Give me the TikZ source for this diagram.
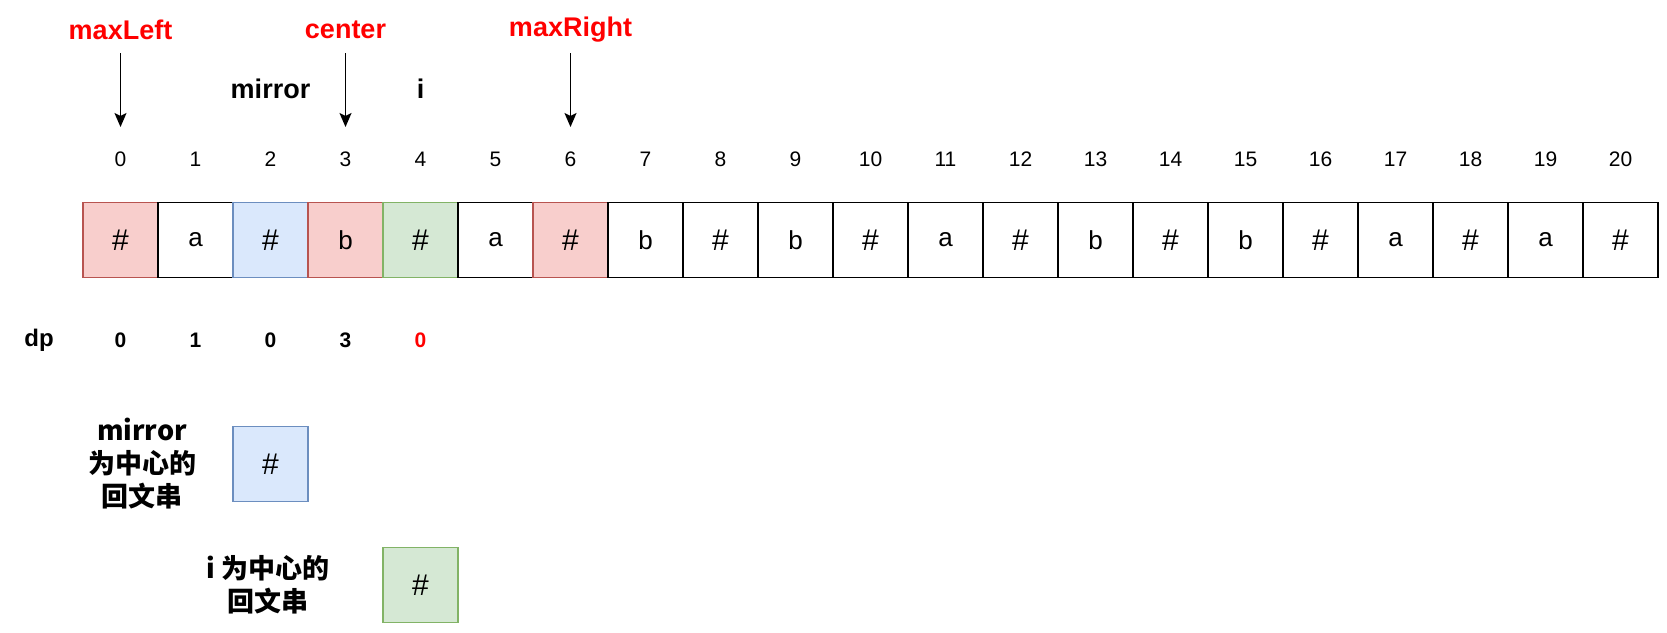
\documentclass[tikz,border=0pt]{standalone}
\usepackage{fontspec}
\setmainfont{Liberation Sans}
\newfontfamily\cjk{Noto Sans CJK SC}
\usetikzlibrary{arrows.meta}
\definecolor{redfill}{HTML}{F8CECC}
\definecolor{redline}{HTML}{B85450}
\definecolor{bluefill}{HTML}{DAE8FC}
\definecolor{blueline}{HTML}{6C8EBF}
\definecolor{greenfill}{HTML}{D5E8D4}
\definecolor{greenline}{HTML}{82B366}
\definecolor{hot}{HTML}{FF0000}
\newcommand\hsh{{\fontsize{30}{30}\selectfont\#}}
\begin{document}
\begin{tikzpicture}[x=1pt,y=-1pt,
  cell/.style={draw=black,fill=white,line width=1.6pt,minimum size=75pt,inner sep=0pt,
    font=\fontsize{26}{28}\selectfont},
  redc/.style={fill=redfill,draw=redline},
  bluec/.style={fill=bluefill,draw=blueline},
  greenc/.style={fill=greenfill,draw=greenline},
  s0/.style={redc}, s2/.style={bluec}, s3/.style={redc}, s4/.style={greenc}, s6/.style={redc},
  idx/.style={font=\fontsize{21}{24}\selectfont},
  dpv/.style={font=\bfseries\fontsize{21}{24}\selectfont},
  toplbl/.style={font=\bfseries\fontsize{27}{30}\selectfont},
  cnlbl/.style={font=\cjk\bfseries\fontsize{27}{33}\selectfont,align=center},
  arr/.style={line width=1.8pt,-{Stealth[length=14pt,width=12pt,inset=3pt]}}
]
\useasboundingbox (0,0) rectangle (1667,632);
% cells
\foreach \c [count=\k from 0] in {\hsh,a,\hsh,b,\hsh,a,\hsh,b,\hsh,b,\hsh,a,\hsh,b,\hsh,b,\hsh,a,\hsh,a,\hsh}{
  \node[cell,s\k/.try] (c\k) at (120.5+75*\k,240) {\c};
  \node[idx] (n\k) at (120.5+75*\k,159) {\k};
}
% dp row
\node[dpv,font=\bfseries\fontsize{24}{26}\selectfont] (dp) at (39,340) {dp};
\node[dpv] (d0) at (120.5,340) {0};
\node[dpv] (d1) at (195.5,340) {1};
\node[dpv] (d2) at (270.5,340) {0};
\node[dpv] (d3) at (345.5,340) {3};
\node[dpv,text=hot] (d4) at (420.5,340) {0};
% top labels
\node[toplbl,text=hot] (maxL) at (120.5,30) {maxLeft};
\node[toplbl,text=hot] (ctr) at (345.5,30) {center};
\node[toplbl,text=hot] (maxR) at (570.5,30) {maxRight};
\node[toplbl] (mir) at (270.5,89) {mirror};
\node[toplbl] (ii) at (420.5,89) {i};
\coordinate (tL) at (120.5,127);
\coordinate (tC) at (345.5,127);
\coordinate (tR) at (570.5,127);
\coordinate (sL) at (120.5,53);
\coordinate (sC) at (345.5,53);
\coordinate (sR) at (570.5,53);
\draw[arr] (sL) -- (tL);
\draw[arr] (sC) -- (tC);
\draw[arr] (sR) -- (tR);
% bottom boxes
\node[cell,bluec] (mbox) at (270.5,464) {\hsh};
\node[cell,greenc] (ibox) at (420.5,585) {\hsh};
\node[cnlbl] (mtext) at (142,464) {mirror\\为中心的\\回文串};
\node[cnlbl] (itext) at (268,585) {i 为中心的\\回文串};
\end{tikzpicture}
\end{document}
